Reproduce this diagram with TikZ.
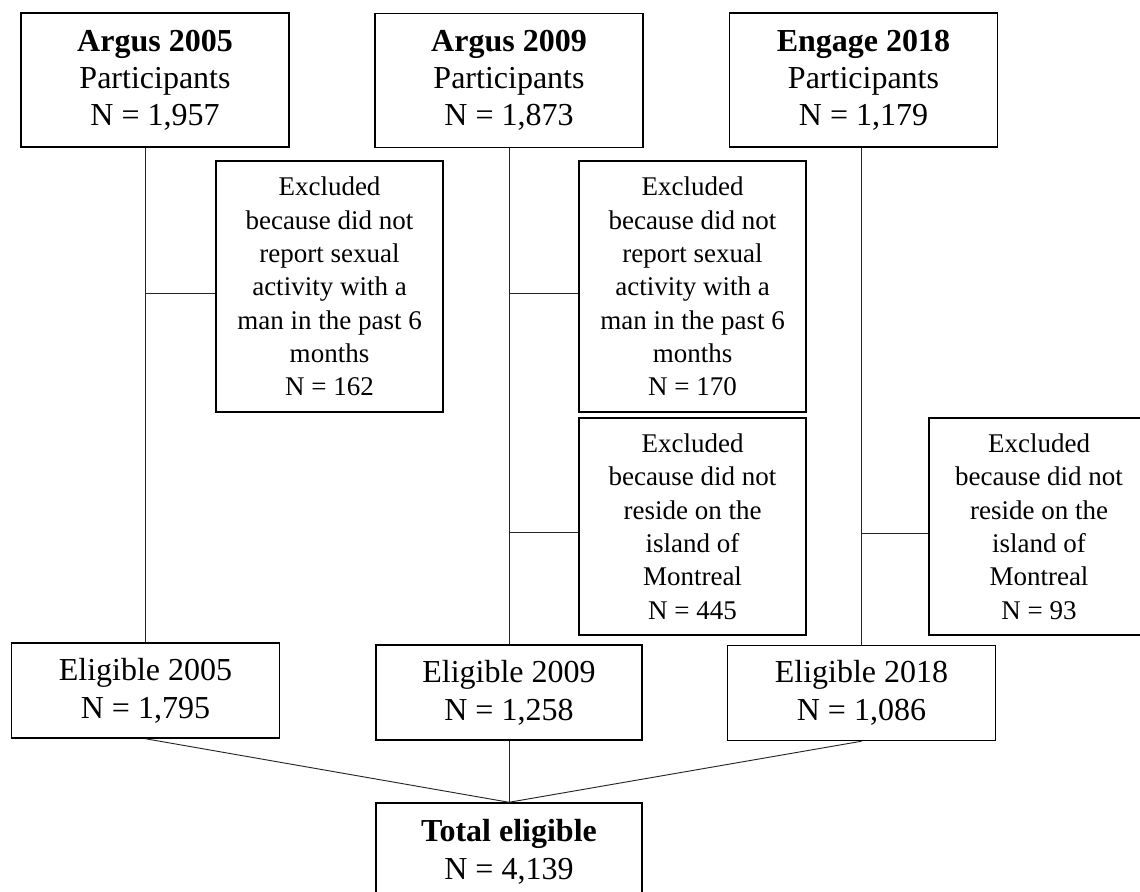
\documentclass[tikz,border=0pt]{standalone}
\usepackage{fontspec}
\setmainfont{Liberation Serif}
\tikzset{
  box/.style={draw, line width=1.1pt, inner sep=0pt, align=center},
  headbox/.style={box, minimum width=201pt, minimum height=100.5pt, font=\fontsize{24}{27.75}\selectfont},
  exbox/.style={box, minimum width=170.25pt, font=\fontsize{20.25}{25}\selectfont},
  elbox/.style={box, minimum width=201pt, minimum height=71.25pt, font=\fontsize{24}{28.5}\selectfont},
  link/.style={line width=0.7pt, draw=black!85},
}
\begin{document}
\begin{tikzpicture}[x=0.75pt, y=-0.75pt]
\useasboundingbox (0,0) rectangle (1140,892);
% studies
\node[headbox] (a05) at (155,80) {\textbf{Argus 2005}\\Participants\\N = 1,957};
\node[headbox] (a09) at (509,80.5) {\textbf{Argus 2009}\\Participants\\N = 1,873};
\node[headbox] (e18) at (863.5,80) {\textbf{Engage 2018}\\Participants\\N = 1,179};
% exclusions
\node[exbox, minimum height=188.25pt] (ex05) at (329.5,286.5) {Excluded\\because did not\\report sexual\\activity with a\\man in the past 6\\months\\N = 162};
\node[exbox, minimum height=188.25pt] (ex09a) at (692.5,286.5) {Excluded\\because did not\\report sexual\\activity with a\\man in the past 6\\months\\N = 170};
\node[exbox, minimum height=162.75pt] (ex09b) at (692.5,526.5) {Excluded\\because did not\\reside on the\\island of\\Montreal\\N = 445};
\node[exbox, minimum height=162.75pt, minimum width=165pt] (ex18) at (1039,526.5) {Excluded\\because did not\\reside on the\\island of\\Montreal\\N = 93};
% eligible
\node[elbox] (el05) at (145.5,690.5) {Eligible 2005\\N = 1,795};
\node[elbox, minimum width=199.5pt] (el09) at (509,692.5) {Eligible 2009\\N = 1,258};
\node[elbox] (el18) at (861.5,693) {Eligible 2018\\N = 1,086};
\node[elbox, minimum width=199.5pt, minimum height=73.5pt] (tot) at (509,852) {\textbf{Total eligible}\\N = 4,139};
% flow lines
\draw[link] (el05.north |- a05.south) -- (el05.north);
\draw[link] (el09.north |- a09.south) -- (el09.north);
\draw[link] (el18.north |- e18.south) -- (el18.north);
\draw[link] (ex05.west) ++(0,6.5) coordinate (j05) -- (j05 -| el05.north);
\draw[link] (ex09a.west) ++(0,6.5) coordinate (j09a) -- (j09a -| el09.north);
\draw[link] (ex09b.west) ++(0,5.5) coordinate (j09b) -- (j09b -| el09.north);
\draw[link] (ex18.west) ++(0,6.5) coordinate (j18) -- (j18 -| el18.north);
\draw[link] (el05.south) -- (tot.north);
\draw[link] (el09.south) -- (tot.north);
\draw[link] (el18.south) -- (tot.north);
\end{tikzpicture}
\end{document}
